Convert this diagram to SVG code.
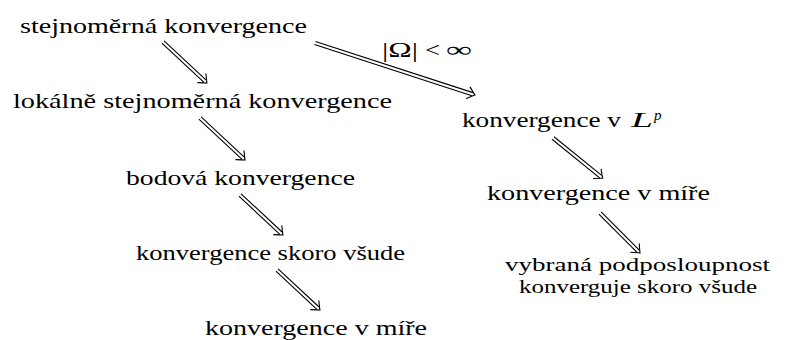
<svg xmlns="http://www.w3.org/2000/svg" width="800" height="340" viewBox="0 0 800 340">
<style>
text{font-family:'Liberation Serif','Times New Roman',serif;font-size:22px;fill:#000}
.it{font-style:italic}
.sm{font-size:19.5px}
.ln{stroke:#000;stroke-width:1.1;fill:none}
.hd{stroke:#000;stroke-width:1.1;fill:none;stroke-linecap:round}
</style>
<defs>
<path id="head" class="hd" d="M-7,-6 Q-2,-1.5 0,0 Q-2,1.5 -7,6"/>
</defs>
<rect width="800" height="340" fill="#fff"/>
<g id="connectors">
<g transform="translate(163,42) rotate(43)"><line class="ln" x1="0" y1="-1.6" x2="57.5" y2="-1.6"/><line class="ln" x1="0" y1="1.6" x2="57.5" y2="1.6"/><use href="#head" x="60.1"/></g>
<g transform="translate(315,43) rotate(18)"><line class="ln" x1="0" y1="-1.6" x2="165.5" y2="-1.6"/><line class="ln" x1="0" y1="1.6" x2="165.5" y2="1.6"/><use href="#head" x="168.2"/></g>
<g transform="translate(200,118) rotate(43)"><line class="ln" x1="0" y1="-1.6" x2="59" y2="-1.6"/><line class="ln" x1="0" y1="1.6" x2="59" y2="1.6"/><use href="#head" x="61.6"/></g>
<g transform="translate(240,195) rotate(43)"><line class="ln" x1="0" y1="-1.6" x2="56" y2="-1.6"/><line class="ln" x1="0" y1="1.6" x2="56" y2="1.6"/><use href="#head" x="58.7"/></g>
<g transform="translate(277,270) rotate(43)"><line class="ln" x1="0" y1="-1.6" x2="56" y2="-1.6"/><line class="ln" x1="0" y1="1.6" x2="56" y2="1.6"/><use href="#head" x="58.7"/></g>
<g transform="translate(553,138) rotate(39)"><line class="ln" x1="0" y1="-1.6" x2="61.3" y2="-1.6"/><line class="ln" x1="0" y1="1.6" x2="61.3" y2="1.6"/><use href="#head" x="64"/></g>
<g transform="translate(600,213) rotate(45)"><line class="ln" x1="0" y1="-1.6" x2="54" y2="-1.6"/><line class="ln" x1="0" y1="1.6" x2="54" y2="1.6"/><use href="#head" x="56.6"/></g>
<text x="382" y="57" textLength="36" lengthAdjust="spacingAndGlyphs">|Ω|</text>
<text x="425" y="57" textLength="15" lengthAdjust="spacingAndGlyphs">&lt;</text>
<text x="446" y="57" textLength="26" lengthAdjust="spacingAndGlyphs">∞</text>
</g>
<g id="n-stejnomerna"><text x="20" y="33" textLength="287" lengthAdjust="spacingAndGlyphs">stejnoměrná konvergence</text></g>
<g id="n-lokalne"><text x="13" y="108" textLength="379" lengthAdjust="spacingAndGlyphs">lokálně stejnoměrná konvergence</text></g>
<g id="n-bodova"><text x="126" y="185" textLength="229" lengthAdjust="spacingAndGlyphs">bodová konvergence</text></g>
<g id="n-skoro"><text x="136" y="260" textLength="269" lengthAdjust="spacingAndGlyphs">konvergence skoro všude</text></g>
<g id="n-mire1"><text x="205" y="335" textLength="222" lengthAdjust="spacingAndGlyphs">konvergence v míře</text></g>
<g id="n-lp"><text x="462" y="127" textLength="159" lengthAdjust="spacingAndGlyphs">konvergence v</text><text class="it" x="631" y="127" textLength="22" lengthAdjust="spacingAndGlyphs">L</text><text class="it" x="654" y="120" style="font-size:15px">p</text></g>
<g id="n-mire2"><text x="487" y="200" textLength="223" lengthAdjust="spacingAndGlyphs">konvergence v míře</text></g>
<g id="n-vybrana"><text class="sm" x="505" y="271" textLength="265" lengthAdjust="spacingAndGlyphs">vybraná podposloupnost</text><text class="sm" x="519" y="293" textLength="238" lengthAdjust="spacingAndGlyphs">konverguje skoro všude</text></g>
</svg>
